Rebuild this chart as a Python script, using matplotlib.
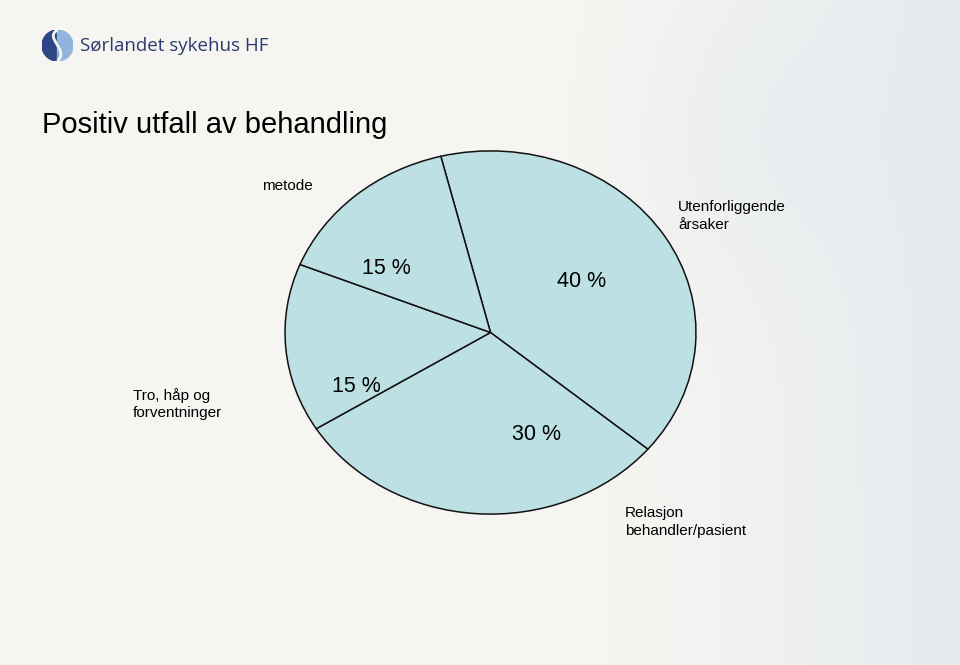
import numpy as np
import matplotlib
matplotlib.use("Agg")
import matplotlib.pyplot as plt
from matplotlib.patches import Wedge, PathPatch
from matplotlib.path import Path

# Data
categories = ["Utenforliggende\nårsaker", "Relasjon\nbehandler/pasient", "Tro, håp og\nforventninger", "metode"]
values = [40, 30, 15, 15]
pct_labels = [f"{v} %" for v in values]
title = "Positiv utfall av behandling"
logo_text = "Sørlandet sykehus HF"

W, H = 960, 665
fig = plt.figure(figsize=(W / 100, H / 100), dpi=100)

# Background gradient
bg = fig.add_axes([0, 0, 1, 1])
bg.set_axis_off()
xx, yy = np.meshgrid(np.linspace(0, 1, 240), np.linspace(0, 1, 166))
base = np.array([0.968, 0.964, 0.950])
tint = np.array([0.885, 0.910, 0.930])
t = np.clip((xx - 0.55) / 0.45, 0, 1) ** 1.6 * 0.85
t += 0.25 * np.exp(-((xx - 0.78) ** 2 / 0.02 + (yy - 0.2) ** 2 / 0.05))
t = np.clip(t, 0, 1)
img = base[None, None, :] * (1 - t[..., None]) + tint[None, None, :] * t[..., None]
bg.imshow(img, extent=[0, 1, 0, 1], aspect="auto", origin="upper")
bg.set_xlim(0, 1)
bg.set_ylim(0, 1)

# Logo
lg = fig.add_axes([42 / W, 1 - 61 / H, 31 / W, 31 / H])
lg.set_axis_off()
lg.set_xlim(-1, 1)
lg.set_ylim(-1, 1)
lg.add_patch(Wedge((0, 0), 1, 90, 270, color="#2f4585"))
lg.add_patch(Wedge((0, 0), 1, -90, 90, color="#8fb5df"))
verts = [(0.0, 1.0), (-0.9, 0.5), (0.8, -0.3), (0.0, -1.0)]
lg.add_patch(PathPatch(Path(verts, [Path.MOVETO, Path.CURVE4, Path.CURVE4, Path.CURVE4]),
                       fill=False, lw=2.0, edgecolor="#f6f5f1"))
fig.text(80 / W, 1 - 46 / H, logo_text, fontsize=13.5, color="#2e3b6e",
         family="Open Sans", va="center", ha="left")

# Title
fig.text(42 / W, 1 - 125 / H, title, fontsize=21, family="Liberation Sans",
         va="center", ha="left", color="black")

# Pie (elliptical)
ax = fig.add_axes([284 / W, 1 - 515 / H, 413 / W, 365 / H])
wedges, _ = ax.pie(values, startangle=104, counterclock=False, colors=["#bde0e5"] * 4,
                   wedgeprops=dict(edgecolor="#111111", linewidth=1.1))
ax.set_aspect("auto")
ax.set_xlim(-1.005, 1.005)
ax.set_ylim(-1.005, 1.005)
ax.set_axis_off()

# Percentage labels
pct_pos = [(582, 282), (537, 435), (356, 386), (386, 268)]
for lab, (px, py) in zip(pct_labels, pct_pos):
    fig.text(px / W, 1 - py / H, lab, fontsize=15.5, family="Liberation Sans",
             ha="center", va="center")

# Category labels
cat_pos = [(678, 216, "left"), (625, 522, "left"), (133, 404, "left"), (262, 186, "left")]
for lab, (cx, cy, ha) in zip(categories, cat_pos):
    fig.text(cx / W, 1 - cy / H, lab, fontsize=11, family="Liberation Sans",
             ha=ha, va="center", linespacing=1.35)

fig.savefig("out.png", dpi=100)
